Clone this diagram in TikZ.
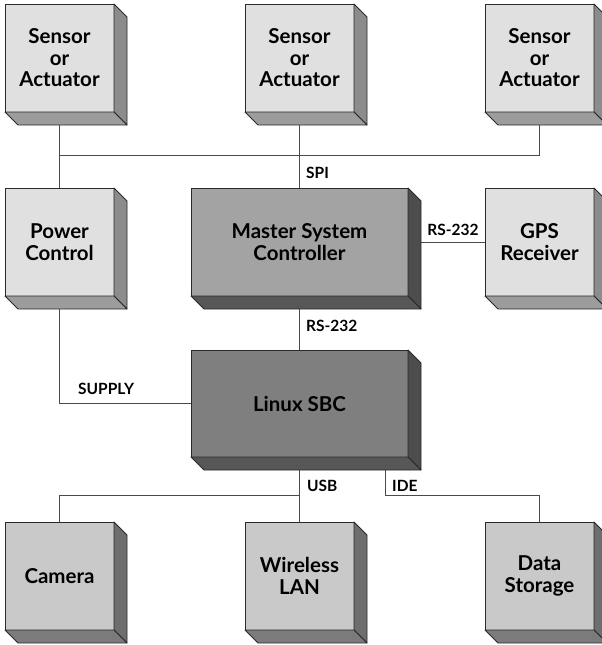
\documentclass[tikz,border=0pt]{standalone}
\usepackage{fontspec}
\setmainfont{Lato}
\usetikzlibrary{calc}
\pgfdeclarelayer{bg}
\pgfsetlayers{bg,main}
\definecolor{edge}{HTML}{2A2A2A}
\definecolor{wire}{HTML}{4A4A4A}
\definecolor{lfront}{HTML}{E0E0E0}
\definecolor{lright}{HTML}{8C8C8C}
\definecolor{lbottom}{HTML}{9C9C9C}
\definecolor{mfront}{HTML}{C9C9C9}
\definecolor{mright}{HTML}{6E6E6E}
\definecolor{mbottom}{HTML}{7B7B7B}
\definecolor{cfront}{HTML}{A3A3A3}
\definecolor{dfront}{HTML}{7F7F7F}
\definecolor{dright}{HTML}{4D4D4D}
\definecolor{dbottom}{HTML}{575757}
\newcommand\sidesof[3]{%
  \filldraw[fill=#2, draw=edge, line width=0.8pt, line join=round]
    (#1.north east) -- ++(13,13) -- ($(#1.south east)+(13,13)$) -- (#1.south east) -- cycle;
  \filldraw[fill=#3, draw=edge, line width=0.8pt, line join=round]
    (#1.south west) -- ++(13,13) -- ($(#1.south east)+(13,13)$) -- (#1.south east) -- cycle;}
\begin{document}
\begin{tikzpicture}[x=1pt,y=-1pt,
  face/.style={draw=edge, line width=0.8pt, inner sep=0pt, outer sep=0pt,
    align=center, font=\bfseries\fontsize{20.5}{21.5}\selectfont, text=black,
    minimum width=109pt, minimum height=108pt},
  wirestyle/.style={draw=wire, line width=0.9pt},
  lbl/.style={font=\bfseries\fontsize{15.5}{17}\selectfont, inner sep=0pt, anchor=west}]
\useasboundingbox (0,0) rectangle (602,645);
% row 1
\node[face, fill=lfront] (s1) at (59.5,58) {Sensor\\or\\Actuator};
\node[face, fill=lfront] (s2) at (299.5,58) {Sensor\\or\\Actuator};
\node[face, fill=lfront] (s3) at (539.5,58) {Sensor\\or\\Actuator};
% row 2
\node[face, fill=lfront] (pc) at (59.5,242) {Power\\Control};
\node[face, fill=cfront, minimum width=217pt] (msc) at (299.5,242) {Master System\\Controller};
\node[face, fill=lfront] (gps) at (539.5,242) {GPS\\Receiver};
% linux
\node[face, fill=dfront, minimum width=217pt, minimum height=107pt] (sbc) at (299.5,403.5) {Linux SBC};
% row 3
\node[face, fill=mfront] (cam) at (59.5,576) {Camera};
\node[face, fill=mfront] (wlan) at (299.5,576) {Wireless\\LAN};
\node[face, fill=mfront] (ds) at (539.5,576) {Data\\Storage};
% 3D sides
\sidesof{s1}{lright}{lbottom}
\sidesof{s2}{lright}{lbottom}
\sidesof{s3}{lright}{lbottom}
\sidesof{pc}{lright}{lbottom}
\sidesof{gps}{lright}{lbottom}
\sidesof{msc}{dright}{dbottom}
\sidesof{sbc}{dright}{dbottom}
\sidesof{cam}{mright}{mbottom}
\sidesof{wlan}{mright}{mbottom}
\sidesof{ds}{mright}{mbottom}
% junction points
\coordinate (spibus) at (59.5,155);
\coordinate (usbbus) at (299.5,495);
\coordinate (idetop) at (385,457);
\coordinate (idebus) at (385,495);
% connectors
\begin{pgfonlayer}{bg}
\draw[wirestyle] (s1.south) -- (pc.north);
\draw[wirestyle] (s2.south) -- (msc.north);
\draw[wirestyle] (s3.south) |- (spibus);
\draw[wirestyle] (msc.east) -- (gps.west);
\draw[wirestyle] (msc.south) -- (sbc.north);
\draw[wirestyle] (pc.south) |- (sbc.west);
\draw[wirestyle] (sbc.south) -- (wlan.north);
\draw[wirestyle] (cam.north) |- (usbbus);
\draw[wirestyle] (idetop) -- (idebus) -| (ds.north);
\end{pgfonlayer}
% labels
\node[lbl] (lspi) at (306,173) {SPI};
\node[lbl, anchor=center] (lrs1) at (453,230) {RS-232};
\node[lbl] (lrs2) at (306,326) {RS-232};
\node[lbl] (lsup) at (78,389) {SUPPLY};
\node[lbl] (lusb) at (307,486) {USB};
\node[lbl] (lide) at (392,486) {IDE};
\end{tikzpicture}
\end{document}
